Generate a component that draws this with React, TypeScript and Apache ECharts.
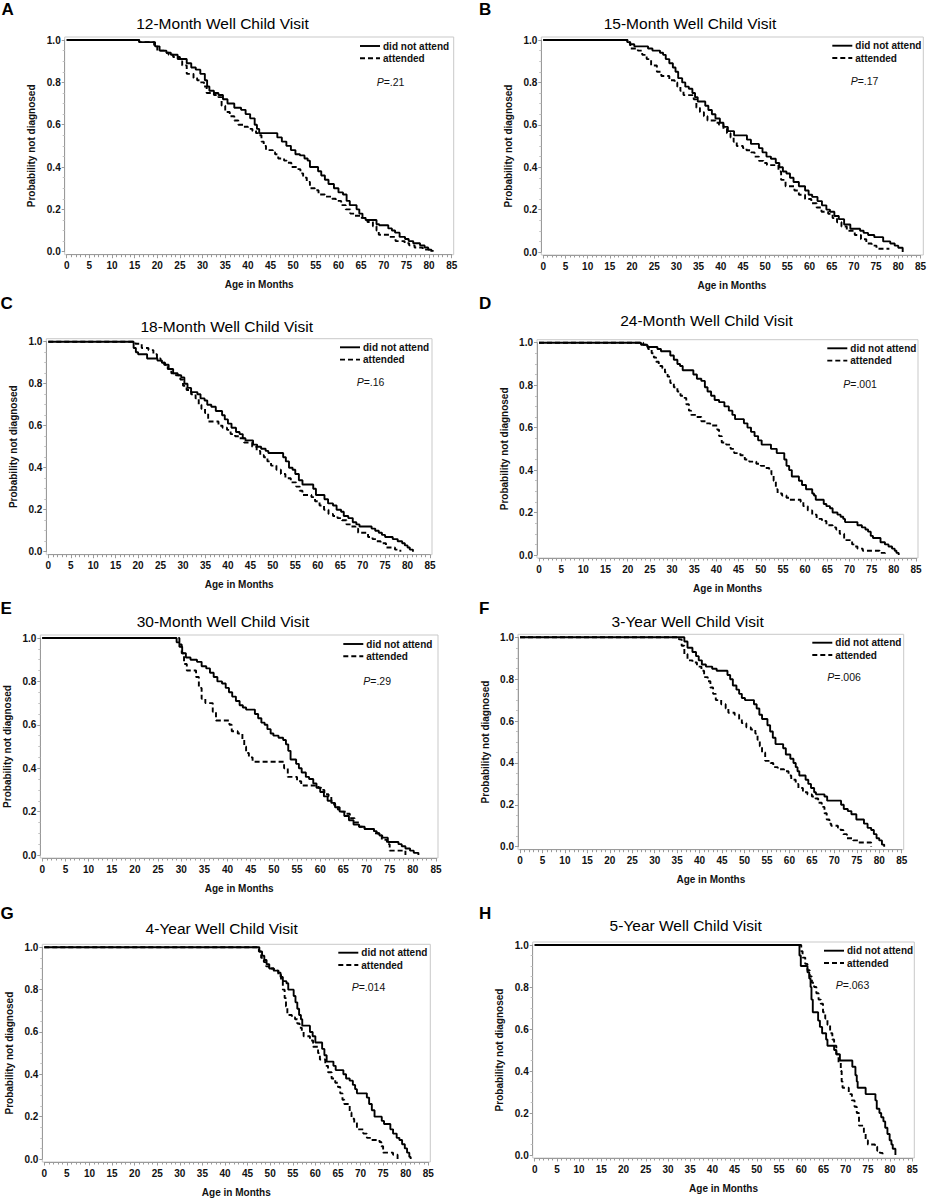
import React, { useEffect, useRef } from "react";
import * as echarts from "echarts";

type Pt = [number, number];

const PANEL_LETTERS = ["A", "B", "C", "D", "E", "F", "G", "H"];
const PANEL_TITLES = [
  "12-Month Well Child Visit",
  "15-Month Well Child Visit",
  "18-Month Well Child Visit",
  "24-Month Well Child Visit",
  "30-Month Well Child Visit",
  "3-Year Well Child Visit",
  "4-Year Well Child Visit",
  "5-Year Well Child Visit",
];
const P_VALUES = [".21", ".17", ".16", ".001", ".29", ".006", ".014", ".063"];
const SERIES_NAMES = ["did not attend", "attended"];
const X_AXIS_NAME = "Age in Months";
const Y_AXIS_NAME = "Probability not diagnosed";

// Kaplan-Meier estimates: [age in months, probability not diagnosed]
const A_NOT_ATTEND: Pt[] = [[0,1],[16,0.99],[19.5,0.97],[20.5,0.95],[22,0.94],[23,0.93],[24.5,0.91],[26.5,0.89],[27.5,0.87],[28.5,0.86],[29.5,0.84],[30.5,0.81],[31,0.78],[31.5,0.76],[32.5,0.75],[33.5,0.74],[34.5,0.72],[35.5,0.70],[37,0.68],[38.5,0.67],[39.5,0.65],[40.5,0.63],[41.5,0.60],[42,0.58],[42.5,0.56],[46.5,0.54],[47.5,0.52],[48.5,0.50],[49.5,0.48],[50.5,0.46],[51.5,0.455],[52.5,0.44],[53.2,0.43],[53.7,0.40],[55.5,0.38],[56.2,0.36],[57,0.34],[57.8,0.32],[59,0.30],[60,0.28],[61,0.27],[61.8,0.24],[62.5,0.22],[64,0.20],[64.6,0.18],[65.3,0.16],[66,0.15],[68.4,0.13],[69,0.125],[71,0.11],[71.8,0.10],[72.5,0.09],[73.5,0.07],[74.7,0.06],[75.5,0.05],[76.5,0.04],[78,0.03],[79,0.02],[79.8,0.01],[80.5,0]];
const A_ATTENDED: Pt[] = [[0,1],[16,0.99],[19.3,0.97],[20,0.95],[21.5,0.94],[22.5,0.93],[23.5,0.92],[25,0.90],[25.5,0.88],[26.5,0.84],[28,0.82],[28.8,0.81],[29.5,0.80],[30.3,0.78],[30.9,0.75],[32.5,0.74],[33.5,0.73],[34.2,0.69],[35,0.66],[36,0.64],[37,0.62],[37.9,0.60],[39,0.59],[40,0.58],[41,0.57],[41.8,0.56],[42.5,0.55],[43,0.52],[43.5,0.50],[44,0.48],[45.5,0.47],[46,0.46],[46.7,0.44],[48,0.43],[48.6,0.42],[49.6,0.40],[50.8,0.39],[51.6,0.37],[52.2,0.35],[53,0.33],[53.7,0.30],[54.8,0.29],[55.6,0.27],[57,0.26],[58.6,0.25],[59.4,0.24],[60.6,0.22],[61.6,0.20],[62.6,0.18],[63.6,0.17],[64.8,0.16],[66.4,0.14],[67.6,0.12],[68.4,0.10],[68.9,0.08],[71.2,0.07],[72.6,0.05],[74.6,0.04],[75.6,0.03],[76.8,0.02],[78.6,0.01],[80.8,0]];

const B_NOT_ATTEND: Pt[] = [[0,1],[18.9,0.99],[19.5,0.98],[20.5,0.97],[23.6,0.96],[24.6,0.95],[26.3,0.94],[27,0.93],[27.6,0.91],[28.4,0.89],[29.2,0.87],[29.8,0.85],[30.4,0.82],[31.3,0.80],[32,0.78],[32.8,0.77],[33.6,0.75],[34.2,0.73],[34.8,0.71],[36.5,0.69],[37.2,0.67],[38,0.65],[38.8,0.63],[39.8,0.61],[40.6,0.59],[41.6,0.57],[43,0.55],[45.9,0.53],[46.8,0.51],[48.6,0.49],[49.4,0.47],[50.3,0.45],[51.3,0.44],[52.4,0.42],[53.2,0.40],[54,0.38],[54.8,0.37],[55.6,0.35],[56.4,0.33],[57.6,0.31],[59,0.29],[59.8,0.27],[60.6,0.26],[61.8,0.24],[62.8,0.22],[63.8,0.20],[64.6,0.19],[65.6,0.17],[66.6,0.155],[67.8,0.13],[69.2,0.11],[71.4,0.10],[72.2,0.09],[73.2,0.08],[74.6,0.07],[76.6,0.05],[78.2,0.04],[79.2,0.03],[80,0.02],[81,0]];
const B_ATTENDED: Pt[] = [[0,1],[19,0.99],[19.6,0.96],[21.3,0.95],[22.3,0.93],[23.3,0.91],[24.3,0.88],[25.6,0.85],[26.6,0.83],[28.4,0.81],[29.6,0.80],[30.2,0.78],[30.9,0.76],[31.6,0.74],[33.9,0.72],[34.5,0.68],[35.3,0.66],[36.2,0.64],[37,0.62],[38.8,0.61],[39.6,0.60],[40.6,0.58],[41.4,0.56],[42.2,0.54],[42.9,0.52],[43.6,0.50],[45,0.49],[45.8,0.48],[46.8,0.47],[47.6,0.45],[48.6,0.43],[49.6,0.42],[50.4,0.41],[53,0.38],[53.6,0.34],[54.6,0.31],[56.6,0.29],[57.6,0.27],[59,0.25],[60.4,0.23],[61.6,0.21],[62.7,0.19],[64.2,0.18],[65.2,0.16],[66.2,0.14],[67.2,0.12],[68.4,0.10],[70.2,0.08],[71.6,0.06],[72.8,0.04],[74,0.03],[75.1,0.015],[78,0.015]];

const C_NOT_ATTEND: Pt[] = [[0,1],[19,0.97],[19.5,0.95],[20,0.94],[22,0.92],[24.3,0.91],[25.3,0.90],[26,0.89],[26.8,0.87],[27.8,0.85],[28.8,0.84],[29.6,0.83],[30.3,0.80],[31,0.78],[31.8,0.76],[33.2,0.75],[33.9,0.73],[34.8,0.72],[35.4,0.70],[36.3,0.69],[37.3,0.67],[38.7,0.65],[39.3,0.63],[40,0.61],[40.8,0.59],[41.8,0.57],[42.6,0.56],[43.3,0.54],[43.9,0.53],[45.6,0.51],[46.5,0.50],[47.4,0.49],[48.4,0.48],[49,0.47],[52.3,0.45],[52.9,0.43],[53.6,0.40],[54.4,0.39],[55,0.37],[55.8,0.34],[56.6,0.32],[59,0.30],[59.6,0.27],[61.5,0.25],[62.3,0.23],[63.4,0.22],[64.2,0.20],[65.2,0.19],[65.8,0.17],[66.8,0.16],[67.8,0.14],[68.6,0.13],[69.3,0.12],[72,0.11],[72.8,0.10],[73.6,0.09],[74.3,0.08],[75,0.07],[76.7,0.06],[77.8,0.05],[78.8,0.04],[79.4,0.03],[80,0.02],[80.5,0.01],[81.2,0]];
const C_ATTENDED: Pt[] = [[0,1],[19.4,0.99],[20.8,0.97],[22.3,0.96],[23.4,0.94],[24.2,0.92],[25,0.91],[25.8,0.89],[26.6,0.87],[27.4,0.85],[28.4,0.84],[29.4,0.82],[30,0.79],[30.8,0.77],[31.8,0.75],[32.8,0.73],[33.5,0.70],[34.1,0.68],[34.9,0.66],[35.6,0.62],[37.9,0.60],[38.8,0.59],[39.8,0.58],[40.6,0.56],[41.6,0.55],[42.6,0.54],[43.6,0.52],[45.4,0.50],[46.4,0.48],[47.2,0.46],[48,0.45],[48.8,0.43],[49.6,0.41],[50.8,0.39],[51.8,0.37],[52.8,0.35],[54,0.33],[55.2,0.31],[56,0.29],[56.6,0.27],[58.6,0.26],[59.4,0.24],[60.4,0.22],[61.4,0.20],[62.4,0.18],[63.4,0.17],[64.4,0.16],[65.4,0.15],[66.4,0.13],[67.4,0.12],[68.4,0.11],[69,0.09],[71.2,0.07],[72.2,0.06],[73,0.05],[74,0.04],[75.2,0.02],[77.2,0.01],[78.4,0]];

const D_NOT_ATTEND: Pt[] = [[0,1],[23,0.99],[24.4,0.98],[26.7,0.97],[27.5,0.96],[29.6,0.94],[30.4,0.92],[31.2,0.90],[31.8,0.89],[32.4,0.87],[34.8,0.85],[35.6,0.83],[36.6,0.82],[37.4,0.79],[38,0.77],[38.8,0.75],[39.6,0.73],[40.6,0.72],[41.8,0.70],[42.8,0.68],[43.6,0.66],[44.2,0.64],[46.2,0.62],[47,0.60],[47.8,0.58],[48.6,0.56],[49.4,0.54],[50.2,0.52],[52.3,0.50],[53.6,0.48],[55.3,0.45],[55.8,0.42],[56.4,0.40],[57,0.37],[58.6,0.35],[59.3,0.33],[60.2,0.31],[61.6,0.29],[62,0.28],[62.4,0.26],[64.2,0.24],[64.8,0.23],[65.6,0.22],[66.2,0.20],[67.3,0.19],[68,0.18],[68.6,0.17],[69,0.155],[71.8,0.14],[72.8,0.13],[73.6,0.12],[74.2,0.11],[74.8,0.09],[75.3,0.08],[77,0.06],[78,0.05],[78.8,0.04],[79.6,0.03],[80.2,0.02],[80.6,0.01],[81.1,0]];
const D_ATTENDED: Pt[] = [[0,1],[23.5,0.99],[24.6,0.97],[25.4,0.95],[25.9,0.93],[26.4,0.91],[27,0.89],[27.8,0.88],[28.4,0.86],[29,0.84],[29.6,0.81],[30.4,0.79],[31.2,0.77],[31.9,0.75],[32.6,0.74],[33.2,0.71],[33.8,0.68],[34.3,0.66],[35.4,0.65],[36.6,0.63],[37.6,0.62],[38.6,0.61],[40.2,0.59],[40.6,0.56],[41.2,0.53],[42.2,0.52],[43.2,0.50],[44,0.48],[45.4,0.47],[46.4,0.45],[47.4,0.44],[49,0.43],[50,0.42],[51,0.41],[51.9,0.40],[52.4,0.38],[52.9,0.35],[53.4,0.31],[53.8,0.29],[54.8,0.28],[55.8,0.27],[56.4,0.26],[59,0.25],[59.6,0.23],[60.6,0.21],[61.6,0.19],[62.6,0.17],[63.8,0.16],[64.8,0.14],[66.2,0.13],[67,0.12],[67.8,0.10],[68.8,0.07],[70.6,0.05],[71.2,0.04],[71.8,0.03],[73,0.02],[76.8,0.01],[78,0]];

const E_NOT_ATTEND: Pt[] = [[0,1],[29,0.98],[29.6,0.96],[30.2,0.93],[31,0.91],[32,0.90],[33.4,0.89],[34.4,0.87],[35.4,0.86],[36.2,0.84],[37,0.82],[37.8,0.80],[38.8,0.79],[39.6,0.77],[40.3,0.75],[41,0.73],[41.8,0.71],[42.6,0.69],[43.3,0.68],[44,0.67],[45.9,0.65],[46.6,0.63],[47.3,0.61],[48,0.60],[48.6,0.58],[49.3,0.56],[49.9,0.55],[51,0.54],[52,0.53],[52.6,0.51],[53.1,0.48],[53.6,0.44],[54.8,0.42],[55.4,0.40],[56,0.38],[56.9,0.36],[57.6,0.35],[58.5,0.33],[59.2,0.31],[60,0.29],[60.8,0.27],[61.6,0.25],[62.4,0.24],[63.2,0.22],[64.2,0.20],[65.2,0.18],[66.2,0.16],[67.2,0.14],[68.4,0.13],[69.6,0.12],[71.6,0.11],[72.2,0.10],[72.8,0.09],[73.4,0.08],[74.6,0.06],[76.9,0.05],[77.6,0.04],[78.4,0.03],[79.4,0.02],[80.2,0.01],[81.2,0]];
const E_ATTENDED: Pt[] = [[0,1],[29.6,0.97],[30.1,0.93],[30.6,0.88],[31.2,0.85],[33.2,0.82],[33.8,0.77],[34.4,0.72],[35.2,0.70],[36.8,0.66],[37.5,0.62],[40.4,0.60],[40.9,0.57],[42.2,0.56],[43.2,0.53],[43.6,0.50],[44,0.47],[44.6,0.45],[45.4,0.43],[52.2,0.40],[53,0.36],[55,0.34],[55.9,0.32],[59.6,0.31],[60.2,0.30],[60.9,0.28],[61.8,0.27],[62.4,0.25],[63,0.23],[63.8,0.21],[64.6,0.20],[65.6,0.19],[66.4,0.17],[67.4,0.15],[68.4,0.13],[69.6,0.12],[71.6,0.10],[72.6,0.09],[73.3,0.07],[74.4,0.05],[75,0.02],[77,0.02],[78.4,0]];

const F_NOT_ATTEND: Pt[] = [[0,1],[36.6,0.98],[37.3,0.95],[38.4,0.93],[39.2,0.91],[39.8,0.89],[40.5,0.87],[41.4,0.86],[42.8,0.85],[43.8,0.84],[46.2,0.82],[46.8,0.80],[47.4,0.77],[48.2,0.75],[48.8,0.73],[49.4,0.71],[50.1,0.70],[52.1,0.68],[52.7,0.66],[53.3,0.63],[53.9,0.61],[55.1,0.58],[55.7,0.55],[56.3,0.52],[56.9,0.49],[58.6,0.47],[59.2,0.44],[60.2,0.42],[60.9,0.40],[61.4,0.38],[61.8,0.36],[62.2,0.34],[63.6,0.32],[64.2,0.30],[64.8,0.28],[65.5,0.26],[65.9,0.25],[67.8,0.24],[68.4,0.22],[71.5,0.20],[72.1,0.18],[73,0.17],[73.8,0.155],[74.9,0.13],[76.6,0.11],[77.4,0.09],[78.2,0.08],[78.8,0.06],[79.4,0.04],[80,0.03],[80.6,0.01],[81.1,0]];
const F_ATTENDED: Pt[] = [[0,1],[35.4,0.99],[36,0.96],[36.6,0.92],[37.3,0.89],[38.4,0.88],[39.4,0.86],[40.4,0.84],[41,0.81],[41.8,0.79],[42.4,0.76],[43,0.73],[43.6,0.70],[44.8,0.68],[45.8,0.66],[46.4,0.64],[47.8,0.63],[48.8,0.61],[49.4,0.59],[50.4,0.57],[51.4,0.56],[52.4,0.54],[52.9,0.51],[53.4,0.48],[53.9,0.45],[54.6,0.41],[55.8,0.40],[56.4,0.38],[57.4,0.37],[58.8,0.36],[59.8,0.34],[60.4,0.32],[61.4,0.30],[62,0.28],[63,0.26],[64,0.25],[65,0.24],[65.8,0.23],[66.4,0.21],[67.2,0.19],[67.8,0.16],[68.3,0.13],[68.9,0.11],[69.3,0.10],[70.8,0.09],[71.4,0.08],[72,0.06],[72.8,0.04],[74.2,0.03],[75.3,0.02],[77.8,0.02],[78.2,0]];

const G_NOT_ATTEND: Pt[] = [[0,1],[47.6,0.98],[48.2,0.96],[48.7,0.94],[49.2,0.92],[49.8,0.90],[50.8,0.89],[51.8,0.88],[52.3,0.86],[52.8,0.84],[53.6,0.83],[54,0.80],[55.2,0.77],[55.6,0.74],[56,0.71],[56.4,0.68],[56.8,0.66],[57.1,0.63],[58.8,0.60],[59.4,0.58],[60,0.55],[61.5,0.52],[62,0.49],[62.5,0.46],[64,0.44],[64.5,0.42],[66.2,0.40],[66.8,0.38],[67.6,0.37],[68.3,0.35],[68.8,0.33],[69.2,0.31],[71.4,0.29],[71.9,0.26],[72.5,0.23],[73.1,0.20],[74.7,0.18],[75.2,0.165],[76.6,0.14],[77.2,0.12],[78,0.10],[78.6,0.09],[79.2,0.07],[79.8,0.05],[80.3,0.03],[80.8,0.01],[81.1,0]];
const G_ATTENDED: Pt[] = [[0,1],[47.5,0.98],[48,0.95],[48.6,0.93],[49.1,0.91],[49.7,0.90],[50.8,0.89],[51.8,0.87],[52.4,0.84],[52.8,0.80],[53.2,0.76],[53.5,0.72],[53.8,0.68],[54.8,0.67],[55.5,0.66],[56,0.64],[56.5,0.62],[57,0.60],[57.4,0.58],[58.8,0.56],[59.5,0.53],[60.6,0.50],[61,0.47],[62.2,0.44],[62.8,0.41],[63.6,0.38],[64.4,0.36],[65,0.34],[65.5,0.31],[66,0.28],[66.4,0.26],[67.6,0.22],[68,0.19],[68.6,0.17],[69.2,0.14],[70.6,0.12],[71.4,0.10],[72.4,0.09],[74.2,0.08],[74.6,0.06],[75,0.03],[77.2,0.02],[78.2,0]];

const H_NOT_ATTEND: Pt[] = [[0,1],[59.6,0.95],[59.9,0.90],[61.4,0.87],[61.8,0.84],[62.1,0.80],[62.3,0.74],[62.6,0.68],[63.8,0.64],[64.2,0.61],[64.7,0.58],[65.6,0.55],[65.9,0.52],[67.4,0.50],[67.9,0.48],[68.7,0.45],[71.5,0.42],[72.2,0.38],[72.5,0.35],[72.7,0.32],[74.5,0.29],[76.7,0.26],[77,0.22],[77.6,0.20],[78,0.18],[78.5,0.16],[78.9,0.13],[79.4,0.10],[79.9,0.07],[80.3,0.05],[80.6,0.03],[81.2,0]];
const H_ATTENDED: Pt[] = [[0,1],[60,0.97],[60.3,0.94],[60.9,0.91],[61.4,0.88],[61.9,0.85],[62.4,0.82],[62.9,0.80],[63.4,0.77],[63.9,0.74],[64.4,0.72],[64.9,0.68],[65.4,0.65],[65.9,0.62],[66.5,0.58],[67,0.55],[67.4,0.52],[67.9,0.48],[68.4,0.44],[68.9,0.40],[69.1,0.35],[69.3,0.32],[70.7,0.29],[71.4,0.26],[72,0.23],[72.5,0.20],[73,0.14],[74.1,0.10],[74.5,0.07],[75,0.05],[76.6,0.04],[77.1,0.02],[77.7,0.01],[78.3,0]];

const PANEL_SERIES: Pt[][][] = [
  [A_NOT_ATTEND, A_ATTENDED],
  [B_NOT_ATTEND, B_ATTENDED],
  [C_NOT_ATTEND, C_ATTENDED],
  [D_NOT_ATTEND, D_ATTENDED],
  [E_NOT_ATTEND, E_ATTENDED],
  [F_NOT_ATTEND, F_ATTENDED],
  [G_NOT_ATTEND, G_ATTENDED],
  [H_NOT_ATTEND, H_ATTENDED],
];

const X_MIN = 0;
const X_MAX = 85;
const X_STEP = 5;
const Y_MIN = 0;
const Y_MAX = 1;
const Y_STEP = 0.2;

// Layout (pixels): plot area edges and text anchors for each panel
const LAYOUT = [
  { x0: 66.7, x1: 451.7, yTop: 40, yBot: 251.7, tx: 222.5, ty: 23.3, lx: 1.5, ly: 9, gx: 360, gy: 46, px: 376.7, py: 81.7 },
  { x0: 543.3, x1: 921.3, yTop: 40, yBot: 252, tx: 690, ty: 23.3, lx: 479, ly: 9, gx: 832.3, gy: 45.7, px: 850.7, py: 81 },
  { x0: 48.3, x1: 430, yTop: 341.7, yBot: 551.7, tx: 226.7, ty: 326, lx: 0.5, ly: 303.5, gx: 340, gy: 347.3, px: 356.7, py: 382.3 },
  { x0: 539, x1: 916, yTop: 342.7, yBot: 555, tx: 706.5, ty: 320, lx: 479, ly: 303.5, gx: 827.3, gy: 348.3, px: 843.3, py: 384 },
  { x0: 42.3, x1: 436, yTop: 638, yBot: 855, tx: 223, ty: 621.7, lx: 0.5, ly: 608.5, gx: 343.3, gy: 644, px: 363.3, py: 680.7 },
  { x0: 520, x1: 901.7, yTop: 637.3, yBot: 846.7, tx: 687.7, ty: 621.7, lx: 479, ly: 608.5, gx: 812.3, gy: 642.7, px: 827.3, py: 676.7 },
  { x0: 44.3, x1: 428.3, yTop: 947.3, yBot: 1159, tx: 221.7, ty: 928.3, lx: 0.5, ly: 913.5, gx: 338.3, gy: 952.7, px: 351.7, py: 987.3 },
  { x0: 534.7, x1: 912.3, yTop: 945, yBot: 1155, tx: 685.7, ty: 925.7, lx: 479, ly: 913.5, gx: 824, gy: 950.7, px: 835.7, py: 985 },
];

const FONT = "'Liberation Sans', Arial, Helvetica, sans-serif";
const AXIS_COLOR = "#9a9a9a";
const FRAME_COLOR = "#c9c9c9";
const TEXT_COLOR = "#111";
const DASH = [5, 3];

function buildOption(): echarts.EChartsOption {
  const grid = LAYOUT.map((l) => ({
    left: l.x0,
    top: l.yTop,
    width: l.x1 - l.x0,
    height: l.yBot - l.yTop,
    containLabel: false,
  }));

  const xAxis = LAYOUT.map((_, i) => ({
    type: "value" as const,
    gridIndex: i,
    min: X_MIN,
    max: X_MAX,
    interval: X_STEP,
    offset: 3,
    name: X_AXIS_NAME,
    nameLocation: "middle" as const,
    nameGap: 25,
    nameTextStyle: { fontFamily: FONT, fontSize: 10, fontWeight: "bold" as const, color: TEXT_COLOR },
    axisLine: { show: true, onZero: false, lineStyle: { color: AXIS_COLOR, width: 1 } },
    axisTick: { show: true, length: 3.5, lineStyle: { color: AXIS_COLOR } },
    minorTick: { show: true, splitNumber: 5, length: 2.5, lineStyle: { color: AXIS_COLOR } },
    axisLabel: { margin: 6, fontFamily: FONT, fontSize: 10, fontWeight: "bold" as const, color: TEXT_COLOR },
    splitLine: { show: false },
  }));

  const yAxis = LAYOUT.map((_, i) => ({
    type: "value" as const,
    gridIndex: i,
    min: Y_MIN,
    max: Y_MAX,
    interval: Y_STEP,
    offset: 2,
    name: Y_AXIS_NAME,
    nameLocation: "middle" as const,
    nameRotate: 90,
    nameGap: 28,
    nameTextStyle: { fontFamily: FONT, fontSize: 10, fontWeight: "bold" as const, color: TEXT_COLOR },
    axisLine: { show: true, onZero: false, lineStyle: { color: AXIS_COLOR, width: 1 } },
    axisTick: { show: true, length: 3, lineStyle: { color: AXIS_COLOR } },
    minorTick: { show: true, splitNumber: 4, length: 2, lineStyle: { color: "#c0c0c0" } },
    axisLabel: {
      margin: 4,
      fontFamily: FONT,
      fontSize: 10,
      fontWeight: "bold" as const,
      color: TEXT_COLOR,
      formatter: (v: number) => v.toFixed(1),
    },
    splitLine: { show: false },
  }));

  const series: any[] = [];
  PANEL_SERIES.forEach((pair, i) => {
    pair.forEach((data, k) => {
      series.push({
        type: "line",
        name: SERIES_NAMES[k],
        xAxisIndex: i,
        yAxisIndex: i,
        data,
        step: "end",
        symbol: "none",
        clip: false,
        lineStyle: { color: "#000", width: 1.9, type: k === 0 ? "solid" : DASH },
        itemStyle: { color: "#000" },
        z: 3,
      });
    });
  });

  const graphic: any[] = [];
  LAYOUT.forEach((l, i) => {
    graphic.push({
      type: "rect",
      silent: true,
      z: 0,
      shape: { x: l.x0 - 2, y: l.yTop - 3, width: l.x1 - l.x0 + 4, height: l.yBot - l.yTop + 6 },
      style: { fill: "none", stroke: FRAME_COLOR, lineWidth: 1 },
    });
    graphic.push({
      type: "text",
      silent: true,
      x: l.lx,
      y: l.ly,
      style: {
        text: PANEL_LETTERS[i],
        fontFamily: FONT,
        fontSize: 17,
        fontWeight: "bold",
        fill: "#000",
        align: "left",
        verticalAlign: "middle",
      },
    });
    graphic.push({
      type: "text",
      silent: true,
      x: l.tx,
      y: l.ty,
      style: {
        text: PANEL_TITLES[i],
        fontFamily: FONT,
        fontSize: 15.5,
        fill: "#000",
        align: "center",
        verticalAlign: "middle",
      },
    });
    SERIES_NAMES.forEach((name, k) => {
      const yy = l.gy + k * 12.3;
      graphic.push({
        type: "line",
        silent: true,
        shape: { x1: l.gx, y1: yy, x2: l.gx + 20, y2: yy },
        style: { stroke: "#000", lineWidth: 1.9, lineDash: k === 0 ? null : DASH },
      });
      graphic.push({
        type: "text",
        silent: true,
        x: l.gx + 23,
        y: yy,
        style: {
          text: name,
          fontFamily: FONT,
          fontSize: 10,
          fontWeight: "bold",
          fill: TEXT_COLOR,
          align: "left",
          verticalAlign: "middle",
        },
      });
    });
    graphic.push({
      type: "text",
      silent: true,
      x: l.px,
      y: l.py,
      style: {
        text: "{i|P}=" + P_VALUES[i],
        fontFamily: FONT,
        fontSize: 10.5,
        fill: TEXT_COLOR,
        align: "left",
        verticalAlign: "middle",
        rich: { i: { fontStyle: "italic", fontFamily: FONT, fontSize: 10.5, fill: TEXT_COLOR } },
      },
    });
  });

  return {
    animation: false,
    backgroundColor: "#ffffff",
    textStyle: { fontFamily: FONT },
    grid,
    xAxis,
    yAxis,
    series,
    graphic,
  } as echarts.EChartsOption;
}

export default function App() {
  const ref = useRef<HTMLDivElement>(null);

  useEffect(() => {
    document.body.style.margin = "0";
    if (!ref.current) return;
    const chart = echarts.init(ref.current, undefined, { renderer: "svg" });
    chart.setOption(buildOption());
    return () => {
      chart.dispose();
    };
  }, []);

  return <div ref={ref} style={{ width: 929, height: 1200, background: "#fff" }} />;
}
